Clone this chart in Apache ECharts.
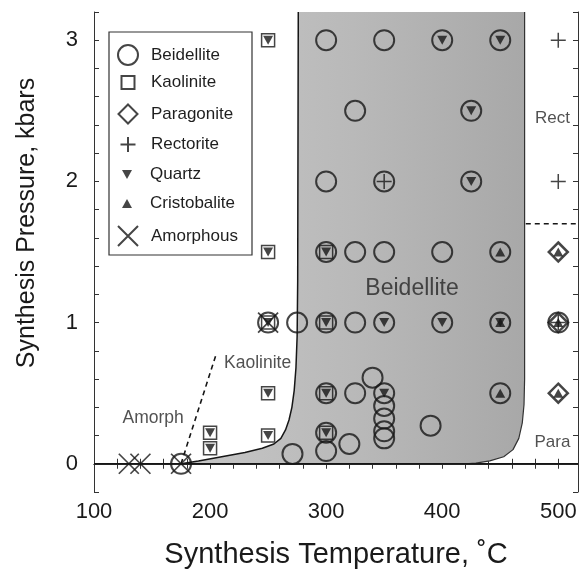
<!DOCTYPE html>
<html>
<head>
<meta charset="utf-8">
<script src="https://cdn.jsdelivr.net/npm/echarts@6/dist/echarts.min.js"></script>
<style>
  html, body { margin: 0; background: #fff; }
  #chart { width: 581px; height: 575px; }
</style>
</head>
<body>
<div id="chart"></div>
<script>
// synthesis runs: [temperature C, pressure kbar]
const beidellite = [
  [300, 3], [350, 3], [400, 3], [450, 3],
  [325, 2.5], [425, 2.5],
  [300, 2], [350, 2], [425, 2],
  [300, 1.5], [325, 1.5], [350, 1.5], [400, 1.5], [450, 1.5],
  [250, 1], [275, 1], [300, 1], [325, 1], [350, 1], [400, 1], [450, 1], [500, 1],
  [300, 0.5], [325, 0.5], [340, 0.61], [350, 0.5], [350, 0.41], [350, 0.32], [350, 0.23], [350, 0.18],
  [450, 0.5], [390, 0.27], [300, 0.22], [300, 0.09], [320, 0.14], [271, 0.07], [175, 0]
];
const kaolinite = [
  [250, 3], [250, 1.5], [250, 1], [250, 0.5], [250, 0.2],
  [200, 0.22], [200, 0.11],
  [300, 1.5], [300, 1], [300, 0.5], [300, 0.22]
];
const paragonite = [[500, 1.5], [500, 1], [500, 0.5]];
const rectorite = [[500, 3], [500, 2], [350, 2], [500, 1]];
const quartz = [
  [250, 3], [250, 1.5], [250, 1], [250, 0.5], [250, 0.2],
  [200, 0.22], [200, 0.11],
  [300, 1.5], [300, 1], [300, 0.5], [300, 0.22],
  [400, 3], [450, 3], [425, 2.5], [425, 2], [350, 1], [400, 1], [450, 1], [350, 0.5]
];
const cristobalite = [[450, 1.5], [450, 1], [450, 0.5], [500, 1.5], [500, 1], [500, 0.5]];
const amorphous = [[130, 0], [140, 0], [175, 0], [250, 1]];

// field boundaries
const leftBoundary = [
  [175, 0], [190, 0.02], [210, 0.05], [230, 0.08], [245, 0.11], [255, 0.14], [261, 0.18],
  [265, 0.24], [268, 0.31], [270.5, 0.4], [272.5, 0.52], [274, 0.68], [275, 0.9], [275.5, 1.3], [276, 3.2]
];
const rightBoundary = [
  [471, 3.2], [471, 0.6], [470.5, 0.42], [469, 0.29], [466, 0.18], [461, 0.1],
  [453, 0.05], [441, 0.02], [429, 0.005], [420, 0]
];
const amorphLine = [[175, 0], [205, 0.77]];
const rectParaLine = [[472, 1.7], [517, 1.7]];
const zeroLine = [[100, 0], [517, 0]];

const fieldLabels = [
  ['Beidellite', 374, 1.24],
  ['Kaolinite', 241, 0.71],
  ['Amorph', 151, 0.32],
  ['Rect', 495, 2.45],
  ['Para', 495, 0.15]
];

const INK = '#161616';
const labelSize = { Beidellite: 23, Kaolinite: 17.5, Amorph: 17.5, Rect: 17, Para: 17 };

const chart = echarts.init(document.getElementById('chart'));

function markerSeries(name, data, symbol, size, filled, border) {
  return {
    name: name,
    type: 'scatter',
    data: data,
    symbol: symbol,
    symbolSize: size,
    z: 5,
    itemStyle: {
      color: filled ? INK : 'rgba(0,0,0,0)',
      borderColor: INK,
      borderWidth: border
    },
    emphasis: { disabled: true },
    silent: true
  };
}

const downTri = 'path://M0 0 L10 0 L5 9 Z';
const plusPath = 'path://M5 0 L5 10 M0 5 L10 5';
const crossPath = 'path://M0 0 L10 10 M10 0 L0 10';

// one legend per row so each icon keeps its own size
const legendRows = [
  ['Beidellite', 54, 20, 20],
  ['Kaolinite', 83, 13, 13],
  ['Paragonite', 113, 19, 19],
  ['Rectorite', 145, 15, 15],
  ['Quartz', 175, 10, 9],
  ['Cristobalite', 204, 10, 9],
  ['Amorphous', 235, 20, 20]
];
const legends = legendRows.map(function (r) {
  const h = Math.max(r[3], 18);
  return {
    data: [r[0]],
    left: 127 - r[2] / 2,
    top: r[1] - h / 2,
    itemWidth: r[2],
    itemHeight: r[3],
    padding: 0,
    selectedMode: false,
    z: 6,
    textStyle: {
      fontFamily: 'Liberation Sans, Arial, sans-serif',
      fontSize: 17,
      color: '#1e1e1e',
      padding: [0, 0, 0, 18 - r[2] / 2]
    }
  };
});

const tickFont = { fontFamily: 'Liberation Sans, Arial, sans-serif', fontSize: 22, color: '#1a1a1a' };
const axisLineStyle = { show: true, lineStyle: { color: '#333', width: 1 } };

chart.setOption({
  animation: false,
  backgroundColor: '#fff',
  grid: { left: 94, right: 1, top: 12, bottom: 83 },
  legend: legends,
  graphic: [{
    type: 'rect',
    shape: { x: 109, y: 32, width: 143, height: 223 },
    style: { fill: '#fff', stroke: '#333', lineWidth: 1.2 },
    z: 5
  }],
  xAxis: [{
    type: 'value', min: 100, max: 517, interval: 20, position: 'bottom',
    axisLine: axisLineStyle,
    axisTick: { inside: true, length: 5, lineStyle: { color: '#333' } },
    splitLine: { show: false },
    axisLabel: Object.assign({ margin: 9, formatter: function (v) { return v % 100 === 0 ? String(v) : ''; } }, tickFont),
    name: 'Synthesis Temperature, ˚C',
    nameLocation: 'middle',
    nameGap: 48,
    nameTextStyle: { fontFamily: 'Liberation Sans, Arial, sans-serif', fontSize: 29, color: '#1a1a1a' }
  }, {
    type: 'value', min: 100, max: 517, interval: 20, position: 'top',
    axisLine: axisLineStyle,
    axisTick: { inside: true, length: 5, lineStyle: { color: '#333' } },
    splitLine: { show: false },
    axisLabel: { show: false }
  }],
  yAxis: [{
    type: 'value', min: -0.2, max: 3.2, interval: 0.2, position: 'left',
    axisLine: axisLineStyle,
    axisTick: { inside: true, length: 5, lineStyle: { color: '#333' } },
    splitLine: { show: false },
    axisLabel: Object.assign({
      margin: 16,
      formatter: function (v) {
        const r = Math.round(v);
        return (Math.abs(v - r) < 1e-6 && r >= 0) ? String(r) : '';
      }
    }, tickFont),
    name: 'Synthesis Pressure, kbars',
    nameLocation: 'middle',
    nameGap: 54,
    nameTextStyle: {
      fontFamily: 'Liberation Sans, Arial, sans-serif', fontSize: 25, color: '#1a1a1a',
      padding: [0, 0, 0, 58]
    }
  }, {
    type: 'value', min: -0.2, max: 3.2, interval: 0.2, position: 'right',
    axisLine: axisLineStyle,
    axisTick: { inside: true, length: 5, lineStyle: { color: '#333' } },
    splitLine: { show: false },
    axisLabel: { show: false }
  }],
  series: [
    {
      // shaded Beidellite stability field
      type: 'custom',
      silent: true,
      z: 1,
      clip: true,
      data: [0],
      renderItem: function (params, api) {
        const pts = leftBoundary.concat(rightBoundary).map(function (p) { return api.coord(p); });
        return {
          type: 'polygon',
          shape: { points: pts },
          style: {
            fill: new echarts.graphic.LinearGradient(0, 0, 1, 0, [
              { offset: 0, color: '#c6c6c6' },
              { offset: 0.5, color: '#b9b9b9' },
              { offset: 1, color: '#a8a8a8' }
            ])
          }
        };
      }
    },
    {
      type: 'line', data: leftBoundary, symbol: 'none', z: 2, silent: true,
      lineStyle: { color: INK, width: 1.5 }
    },
    {
      type: 'line', data: rightBoundary, symbol: 'none', z: 2, silent: true,
      lineStyle: { color: '#333', width: 1.2 }
    },
    {
      type: 'line', data: zeroLine, symbol: 'none', z: 2, silent: true,
      lineStyle: { color: INK, width: 1.3 }
    },
    {
      type: 'line', data: amorphLine, symbol: 'none', z: 2, silent: true,
      lineStyle: { color: INK, width: 1.6, type: [5, 4] }
    },
    {
      type: 'line', data: rectParaLine, symbol: 'none', z: 2, silent: true,
      lineStyle: { color: INK, width: 1.6, type: [5, 4] }
    },
    markerSeries('Beidellite', beidellite, 'circle', 20, false, 2),
    markerSeries('Kaolinite', kaolinite, 'rect', 13, false, 1.5),
    markerSeries('Paragonite', paragonite, 'diamond', 19, false, 2.5),
    markerSeries('Rectorite', rectorite, plusPath, 15, false, 1.5),
    markerSeries('Quartz', quartz, downTri, [10, 9], true, 0),
    markerSeries('Cristobalite', cristobalite, 'triangle', [10, 9], true, 0),
    markerSeries('Amorphous', amorphous, crossPath, 20, false, 1.7),
    {
      type: 'scatter',
      silent: true,
      z: 6,
      symbolSize: 1,
      itemStyle: { color: 'rgba(0,0,0,0)' },
      data: fieldLabels.map(function (f) {
        return {
          name: f[0],
          value: [f[1], f[2]],
          label: { fontSize: labelSize[f[0]] }
        };
      }),
      label: {
        show: true,
        position: 'inside',
        formatter: '{b}',
        fontFamily: 'Liberation Sans, Arial, sans-serif',
        color: '#262626'
      }
    }
  ]
});
</script>
</body>
</html>
